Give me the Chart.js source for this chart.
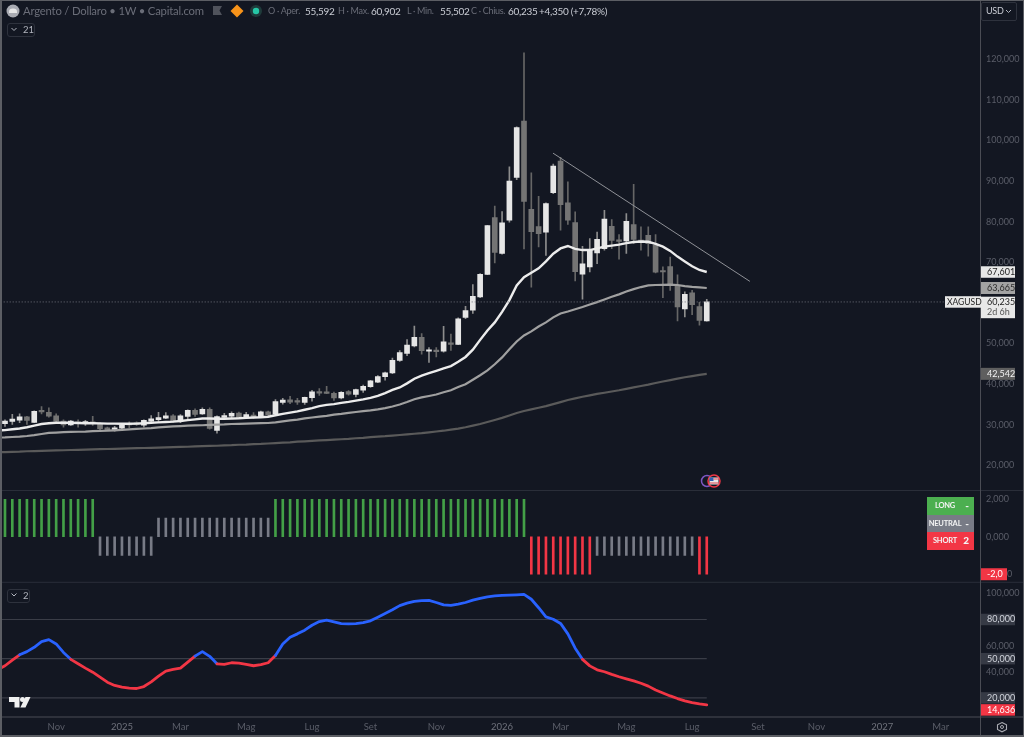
<!DOCTYPE html>
<html>
<head>
<meta charset="utf-8">
<title>Argento / Dollaro</title>
<script src="https://cdn.jsdelivr.net/npm/chart.js@4"></script>
<style>
  html, body { margin: 0; padding: 0; background: #131722; }
  #wrap { position: relative; width: 1024px; height: 737px; overflow: hidden; font-family: Lato, sans-serif; }
  canvas { position: absolute; left: 0; top: 0; }
  #frame { position: absolute; inset: 0; border: 1px solid #5c5e64; border-width: 1px 1px 2px 2px; pointer-events: none; }
  .t { position: absolute; white-space: nowrap; line-height: 12px; font-size: 9px; letter-spacing: -0.3px; top: 5px; }
  .dim { color: #6a6d78; }
  .val { color: #c9ccd4; }
  .fold { position: absolute; border: 1px solid #2e323d; border-radius: 3px; color: #b2b5be; font-size: 9.5px; line-height: 12px; height: 12px; box-sizing: content-box; padding-left: 15px; }
  .row { position: absolute; left: 927px; width: 47px; height: 17.5px; color: #f4f4f4; font-size: 7.5px; line-height: 17px; font-weight: 700; }
  .row b { position: absolute; right: 5px; font-size: 10px; }
  .row span { position: absolute; left: 0; width: 36px; text-align: center; letter-spacing: -0.2px; }
  svg { position: absolute; left: 0; top: 0; }
</style>
</head>
<body>
<div id="wrap">
  <canvas id="silver" width="1024" height="737"></canvas>
  <svg width="1024" height="737">
    <!-- symbol badge and status marks -->
    <circle cx="13" cy="11" r="6.500" fill="#a9abb2"/>
    <path d="M9 13h8v-1.500a4 3 0 0 0-8 0z" fill="#e6e6e6"/>
    <path d="M213 6h9l-2.500 4.500 2.500 4.500h-9z" fill="#50535c"/>
    <path d="M237 4.500l6.500 6.500-6.500 6.500-6.500-6.500z" fill="#f7931a"/>
    <circle cx="256" cy="11" r="6" fill="#1f3b3b"/>
    <circle cx="256" cy="11" r="3.200" fill="#26c6a6"/>
    <!-- folded indicator chevrons -->
    <path d="M11.500 28l2.500 2.500 2.500-2.500" fill="none" stroke="#b2b5be"/>
    <path d="M11.500 593.500l2.500 2.500 2.500-2.500" fill="none" stroke="#b2b5be"/>
    <!-- calendar event markers -->
    <circle cx="707" cy="481" r="5.500" fill="#131722" stroke="#7e57c2" stroke-width="1.500"/>
    <circle cx="714" cy="481" r="6" fill="#131722" stroke="#f23645" stroke-width="1.500"/>
    <rect x="709.500" y="477.500" width="9" height="7" fill="#e8e8e8"/>
    <rect x="709.500" y="477.500" width="4" height="3.500" fill="#2f5fb3"/>
    <path d="M709.500 483h9M713.500 479h5" stroke="#e0464f" stroke-width="1"/>
    <!-- brand mark -->
    <path d="M9 697h10.500v10.500h-5v-5.500h-5.500z" fill="#f0f0f0"/>
    <circle cx="22.500" cy="699.500" r="2.500" fill="#f0f0f0"/>
    <path d="M25.500 697h5l-5 10.500h-5.200z" fill="#f0f0f0"/>
    <!-- settings gear -->
    <path d="M1002 722.500l4.500 2.300v4.700l-4.500 2.300-4.500-2.300v-4.700z" fill="none" stroke="#a9abb2" stroke-width="1.100"/>
    <circle cx="1002" cy="727" r="1.500" fill="none" stroke="#a9abb2"/>
    <!-- currency chevron -->
    <path d="M1006 10l2.500 2.500 2.500-2.500" fill="none" stroke="#b2b5be"/>
  </svg>

  <div class="t dim" style="left:23px;font-size:11.3px;letter-spacing:-0.2px;">Argento / Dollaro • 1W • Capital.com</div>
  <div class="t dim" style="left:268px;">O · Aper.</div><div class="t val" style="left:305px;font-size:10px;">55,592</div>
  <div class="t dim" style="left:338px;">H · Max.</div><div class="t val" style="left:371px;font-size:10px;">60,902</div>
  <div class="t dim" style="left:407px;">L · Min.</div><div class="t val" style="left:440px;font-size:10px;">55,502</div>
  <div class="t dim" style="left:471px;">C · Chius.</div><div class="t val" style="left:508px;font-size:10px;">60,235</div>
  <div class="t val" style="left:539px;font-size:10px;">+4,350 (+7,78%)</div>
  <div class="t val" style="left:986px;">USD</div>
  <div style="position:absolute;left:981px;top:2px;width:34px;height:17px;border:1px solid #2e323d;border-radius:2px;"></div>

  <div class="fold" style="left:7px;top:23px;width:11px;">21</div>
  <div class="fold" style="left:7px;top:589px;width:6px;">2</div>

  <div class="row" style="top:497px;background:#4caf50;"><span>LONG</span><b>-</b></div>
  <div class="row" style="top:514.5px;background:#787b86;"><span>NEUTRAL</span><b>-</b></div>
  <div class="row" style="top:532px;background:#f23645;"><span>SHORT</span><b>2</b></div>
  <div id="frame"></div>
</div>
<script>
// Weekly silver candles; week 0 sits just off the left edge of the pane
const opens = [30.6,
  30.26,30.84,31.17,31.99,30.6,33.4,33.1,32.2,30.9,30.0,
  30.75,30.43,30.5,30.26,29.28,28.87,29.2,30.25,30.25,29.93,
  30.9,31.25,31.65,32.2,30.9,32.05,33.55,32.7,33.8,28.6,
  31.8,32.15,32.9,31.8,32.3,32,33.2,32.65,35.5,36.15,
  35.85,35.5,36.67,38.2,37.95,37.75,36.6,38.15,37.5,38.55,
  39.4,40.5,41.85,42.75,45.85,47.6,49.4,51.55,48.1,48.25,
  48.1,50.2,49.8,56.4,58.2,61.5,67,81,72.15,80.35,
  90.85,104.75,83,78.8,77.4,87.1,94.9,84.6,79.75,67.05,
  68.85,72.3,73.35,78.85,75.5,75.25,79.3,75.3,76.65,74.2,
  67.85,68.95,64.1,58.5,62.45,59.1,55.592];
const closes = [30.4,
  30.92,31.41,31.99,31.08,33.3,33.2,32.15,30.9,30.0,30.9,
  30.35,30.6,30.35,29.03,28.7,29.28,30.0,30.0,30.1,31.08,
  31.5,31.8,32.2,30.85,32.2,33.55,32.55,33.8,29.1,32.05,
  32.3,32.8,31.65,32.55,32,33.2,32.5,35.7,36.1,35.6,
  35.6,36.75,38.14,37.8,37.75,36.6,38,37.55,38.65,39.45,
  40.8,41.9,42.8,45.85,47.75,49.65,51.55,48.25,48.4,48,
  50.4,49.8,56.1,58.1,61.6,67,79,72.45,79.7,89.95,
  103.15,84.95,77.5,77.05,84.45,93.65,84.2,80.35,67.7,69.6,
  72.95,75.65,80.65,75.4,75.1,80.1,75.65,75.1,74.6,67.55,
  67.6,64.4,59,62.1,59.55,55.7,60.235];
const highs = [30.9,
  31.2,32.56,32.73,32.07,33.46,34.5,34.2,32.7,31.25,31.1,
  31.25,31.1,32.07,30.5,29.45,29.6,30.2,30.75,30.75,31.25,
  32.3,33.05,33,32.55,32.55,33.7,33.95,34.2,34.2,32.2,
  32.8,33.2,33.15,33.05,33,33.4,33.4,36.2,36.5,37,
  36.5,36.8,38.5,38.9,39.45,38.05,38.2,38.4,38.8,39.8,
  40.95,42.1,43,46.4,48.25,50.95,54.3,52.45,49,49,
  54.25,52.3,56.3,59.15,64.5,67.2,79.1,83.8,82.5,93.5,
  103.3,121.55,92,86.25,84.6,94.15,95.8,89.8,82.4,73.95,
  75.85,77.45,82.8,80.5,76.8,82,89.2,78.7,78.7,76.8,
  68.85,71.3,66.9,62.75,63.1,60.15,60.902];
const lows = [30.2,
  29.6,30.1,30.5,30.1,30.5,32.7,31.9,30.7,29.45,29.85,
  29.45,29.85,29.85,28.6,28.6,28.45,29.03,29.3,29.85,29.45,
  30.4,30.7,31.5,30.6,30.5,31.5,32.05,32.55,28.95,27.95,
  31.65,31.75,31.6,31.6,31.6,31.75,32.05,32.55,35.1,35.2,
  35,35,35.85,37.25,37.65,36,36.4,37.3,36.85,38,
  39.2,40.35,41,42.6,45.6,47,49.15,47.4,45.35,46.7,
  47.9,48.3,49.7,56.1,57.4,61.3,66.95,69.85,72,79.85,
  90.35,73.3,63.9,73.8,71.7,86.9,77.9,79.3,65.4,60.9,
  67.6,69.65,72.95,73.35,70.75,72.15,74.6,73,71.5,67.35,
  61.3,63.1,55.55,56.55,57.1,54.55,55.502];

// Moving averages over the candles
const fastMa = [28.6,
  28.7,28.9,29.1,29.4,29.8,30.2,30.4,30.5,30.5,30.5,
  30.45,30.4,30.4,30.35,30.3,30.3,30.25,30.25,30.3,30.4,
  30.5,30.6,30.7,30.8,30.95,31.15,31.35,31.55,31.55,31.5,
  31.5,31.55,31.6,31.7,31.8,31.85,32,32.35,32.7,33,
  33.3,33.7,34.1,34.6,34.9,35.1,35.4,35.65,35.95,36.25,
  36.65,37.1,37.8,38.6,39.2,40.2,41.35,42.1,42.7,43.3,
  43.9,44.45,45.5,46.7,48.5,50.9,53.2,55.2,57.8,60.7,
  64.3,66.3,67.4,68.5,70.2,72.1,73.4,74,73.3,73,
  73,73.4,73.85,74.1,74.35,74.7,75,75.1,75.05,74.5,
  73.85,72.8,71.4,70.2,69,68.1,67.601];
const midMa = [26.85,
  26.9,27,27.1,27.25,27.45,27.75,28,28.1,28.2,28.25,
  28.3,28.35,28.45,28.5,28.55,28.65,28.75,28.9,29,29.1,
  29.2,29.35,29.5,29.6,29.7,29.8,29.85,29.9,30,30.05,
  30.1,30.2,30.25,30.3,30.35,30.4,30.45,30.6,30.85,31.1,
  31.3,31.6,31.8,32,32.2,32.5,32.7,32.95,33.15,33.35,
  33.55,33.8,34.1,34.5,35,35.6,36.3,36.75,37.1,37.45,
  38,38.5,39.3,40,41.1,42.2,43.4,44.9,46.6,48.6,
  50.5,52,53,54.2,55.2,56.45,57.4,57.9,58.45,59,
  59.6,60.2,60.85,61.5,62.1,62.8,63.4,63.9,64.3,64.4,
  64.45,64.5,64.4,64.15,63.95,63.8,63.665];
const slowMa = [23.25,
  23.3,23.35,23.4,23.5,23.55,23.6,23.65,23.7,23.75,23.8,
  23.85,23.9,23.95,24,24.05,24.1,24.15,24.2,24.25,24.3,
  24.35,24.4,24.45,24.5,24.55,24.6,24.7,24.75,24.8,24.85,
  24.95,25,25.1,25.15,25.25,25.3,25.4,25.5,25.6,25.7,
  25.85,25.95,26.05,26.15,26.25,26.35,26.45,26.55,26.7,26.8,
  26.95,27.1,27.2,27.35,27.5,27.65,27.8,27.95,28.15,28.35,
  28.55,28.8,29.05,29.4,29.8,30.2,30.7,31.2,31.7,32.3,
  32.9,33.4,33.8,34.2,34.6,35.1,35.6,36.1,36.5,36.9,
  37.25,37.6,37.9,38.2,38.5,38.85,39.2,39.55,39.9,40.3,
  40.65,41,41.35,41.7,42,42.3,42.542];

// Hand drawn trendline and the last traded price
const trendWeeks = [75.97, 102.9];
const trendValues = [96.85, 65.3];
const lastPrice = 60.235;

// Long / neutral / short state per week
const signal = [2,
  2,2,2,2,2,2,2,2,2,2,2,2,2,
  -1,-1,-1,-1,-1,-1,-1,-1,
  1,1,1,1,1,1,1,1,1,1,1,1,1,1,1,1,
  2,2,2,2,2,2,2,2,2,2,
  2,2,2,2,2,2,2,2,2,2,
  2,2,2,2,2,2,2,2,2,2,
  2,2,2,2,2,
  -2,-2,-2,-2,-2,-2,-2,-2,-2,
  -1,-1,-1,-1,-1,-1,-1,-1,-1,-1,-1,-1,-1,-1,
  -2,-2];

// Oscillator, blue above the 50 level and red below it
const oscillator = [41.5,
  44.6,48.9,53,55.4,58.7,63,64.6,61.3,54.8,49.5,
  46.1,42.8,39.7,35.9,32,29.5,28.2,27.4,27.2,28.7,
  32.3,36.6,40.5,41.8,42.8,47.4,52,55.4,51.8,46.1,
  45.6,46.9,46.6,45.6,44.6,45.4,46.9,52.5,61.3,66.4,
  69,71.8,75.6,78.4,79.5,78.2,76.9,76.6,76.9,77.6,
  79,81.8,84.6,87.5,90.6,92.5,93.8,94.4,94.6,93,
  91.2,90.8,91.8,93,94.8,96.2,97.3,98,98.4,98.6,
  98.9,99.2,95.5,89,82,80.2,77,69,58,49.5,
  44.5,41.5,40,38,36.2,34.6,33,31.2,29,26,
  23.8,21.5,19.5,17.7,16.4,15.4,14.636];
const oscLevels = [80, 50, 20];

// Axis ticks
const priceTicks = [20,30,40,50,60,70,80,90,100,110,120];
const signalTicks = [-2,0,2];
const oscTicks = [40,60,100];
const timeTicks = [8,17,25,34,43,51,60,69,77,86,95,104,112,121,129];
const timeLabels = ['Nov','2025','Mar','Mag','Lug','Set','Nov','2026','Mar','Mag','Lug','Set','Nov','2027','Mar'];

const upBody = '#e6e6e6', downBody = '#747474';
const longGreen = '#43a047', neutralGray = '#787b86', shortRed = '#f23645', oscBlue = '#2962ff';
const axisText = '#5a5d68', FONT = 'Lato, sans-serif';

const comma = (v, d) => v.toFixed(d === undefined ? 3 : d).replace('.', ',');
const at = (arr) => arr.map((y, x) => ({ x, y }));
const isUp = closes.map((c, i) => c >= opens[i]);
const lastWeek = opens.length - 1;
const flat = (y, x0, x1) => [{ x: x0, y }, { x: x1, y }];

// Panes stack on one right hand axis column, heaviest weight on top
function yAxis(weight, stackWeight, min, max, tickValues) {
  return {
    type: 'linear', position: 'right', stack: 'panes', weight, stackWeight, min, max,
    grid: { display: false, drawTicks: false }, border: { display: false },
    afterBuildTicks: (s) => { s.ticks = tickValues.map(value => ({ value })); },
    afterFit: (s) => { s.width = 44; s.paddingTop = 0; s.paddingBottom = 0; },
    ticks: {
      color: axisText, crossAlign: 'near', padding: 6, autoSkip: false,
      font: { family: FONT, size: 9 }, callback: (v) => comma(v)
    }
  };
}

// Price tags sitting on the right axis, on top of its tick labels
const tags = [
  { axis: 'y', value: fastMa[lastWeek], bg: '#e8e8e8', fg: '#222' },
  { axis: 'y', value: midMa[lastWeek], bg: '#a3a3a3', fg: '#2b2b2b', h: 12 },
  { axis: 'y', value: slowMa[lastWeek], bg: '#5f5f5f', fg: '#f2f2f2', h: 12 },
  { axis: 'osc', value: 80, bg: '#363a45', fg: '#d1d4dc' },
  { axis: 'osc', value: 50, bg: '#363a45', fg: '#d1d4dc' },
  { axis: 'osc', value: 20, bg: '#363a45', fg: '#d1d4dc' },
  { axis: 'osc', value: oscillator[lastWeek], bg: shortRed, fg: '#fff', dy: 5 },
];

const panePlugin = {
  id: 'panes',
  beforeInit(chart) { chart.ctx.letterSpacing = '-0.45px'; },
  beforeDatasetsDraw(chart) {
    const c = chart.ctx, { y, sig, osc } = chart.scales;
    c.save();
    c.strokeStyle = '#2a2e39';
    c.lineWidth = 1;
    [y.bottom, sig.bottom].forEach(py => {
      c.beginPath(); c.moveTo(0, py); c.lineTo(1024, py); c.stroke();
    });
    c.strokeStyle = '#4a4c54';
    c.beginPath(); c.moveTo(0, osc.bottom); c.lineTo(1024, osc.bottom); c.stroke();
    c.beginPath(); c.moveTo(980.5, 0); c.lineTo(980.5, 735); c.stroke();
    c.restore();
  },
  afterDraw(chart) {
    const c = chart.ctx, s = chart.scales;
    const box = (x, py, w, h, fill) => { c.fillStyle = fill; c.fillRect(x, py - h / 2, w, h); };
    const text = (str, x, py, color, size) => {
      c.fillStyle = color; c.font = `${size || 9}px ${FONT}`;
      c.textAlign = 'left'; c.textBaseline = 'middle'; c.fillText(str, x, py);
    };
    c.save();
    tags.forEach(t => {
      const py = s[t.axis].getPixelForValue(t.value) + (t.dy || 0);
      box(981, py, 34, t.h || 11.5, t.bg);
      text(comma(t.value), 987, py, t.fg);
    });
    // current price block with time to bar close
    const py = s.y.getPixelForValue(lastPrice);
    box(981, py + 5.5, 34, 21.5, '#e8e8e8');
    text(comma(lastPrice), 987, py, '#222');
    text('2d 6h', 987, py + 10.5, '#555');
    box(945, py, 36, 11.5, '#e8e8e8');
    text('XAGUSD', 947, py, '#222', 8.5);
    // state tag of the signal pane
    const sy = s.sig.getPixelForValue(signal[lastWeek]);
    box(981, sy, 26, 12, shortRed);
    text(comma(signal[lastWeek], 1), 987, sy, '#fff');
    c.restore();
  }
};

new Chart(document.getElementById('silver'), {
  type: 'bar',
  data: {
    datasets: [
      { label: 'wick', data: at(lows.map((l, i) => [l, highs[i]])), yAxisID: 'y', grouped: false, barThickness: 1,
        backgroundColor: isUp.map(u => u ? '#8d8d8d' : '#666'), order: 9 },
      { label: 'body', data: at(opens.map((o, i) => [o, closes[i]])), yAxisID: 'y', grouped: false, barThickness: 5, minBarLength: 1.5,
        backgroundColor: isUp.map(u => u ? upBody : downBody), order: 8 },
      { label: 'signal', data: at(signal), yAxisID: 'sig', grouped: false, barThickness: 2,
        backgroundColor: signal.map(v => v === 2 ? longGreen : v === -2 ? shortRed : neutralGray), order: 7 },
      { type: 'line', label: 'slow', data: at(slowMa), yAxisID: 'y', borderColor: '#5a5a5a', borderWidth: 2.2, pointRadius: 0, order: 6 },
      { type: 'line', label: 'mid', data: at(midMa), yAxisID: 'y', borderColor: '#a0a0a0', borderWidth: 2.2, pointRadius: 0, order: 5 },
      { type: 'line', label: 'fast', data: at(fastMa), yAxisID: 'y', borderColor: '#ececec', borderWidth: 2.4, pointRadius: 0, order: 4 },
      { type: 'line', label: 'trend', data: trendWeeks.map((x, i) => ({ x, y: trendValues[i] })), yAxisID: 'y', borderColor: '#8f9197', borderWidth: 1, pointRadius: 0, order: 3 },
      { type: 'line', label: 'last', data: flat(lastPrice, 0, 135), yAxisID: 'y', borderColor: '#6f727a', borderWidth: 1, borderDash: [1, 2], pointRadius: 0, order: 2 },
      ...oscLevels.map(level => ({ type: 'line', label: 'level', data: flat(level, 0, lastWeek), yAxisID: 'osc', borderColor: '#3a3d47', borderWidth: 1.2, pointRadius: 0, order: 2 })),
      { type: 'line', label: 'osc', data: at(oscillator), yAxisID: 'osc', borderColor: oscBlue, borderWidth: 2.8, pointRadius: 0, order: 1,
        borderJoinStyle: 'round', borderCapStyle: 'round',
        segment: { borderColor: (ctx) => ctx.p0.parsed.y >= 50 ? oscBlue : shortRed } },
    ]
  },
  options: {
    responsive: false,
    animation: false,
    devicePixelRatio: 1,
    layout: { padding: { left: 2, top: 2, right: 0, bottom: 2 } },
    plugins: { legend: { display: false }, tooltip: { enabled: false } },
    events: [],
    scales: {
      x: {
        type: 'linear', offset: false, min: 0.59, max: 134.38,
        grid: { display: false, drawTicks: false }, border: { display: false },
        afterBuildTicks: (s) => { s.ticks = timeTicks.map(value => ({ value })); },
        afterFit: (s) => { s.height = 18; s.paddingLeft = 0; s.paddingRight = 0; },
        ticks: {
          autoSkip: false, maxRotation: 0, padding: 4,
          color: (ctx) => /^20/.test(ctx.tick.label) ? '#6f727c' : axisText,
          font: { family: FONT, size: 9.5 },
          callback: (v) => timeLabels[timeTicks.indexOf(v)]
        }
      },
      y: yAxis(1, 488.5, 13.84, 134.04, priceTicks),
      sig: yAxis(2, 91.8, -2.43, 2.47, signalTicks),
      osc: yAxis(3, 134.7, 5.38, 108.46, oscTicks)
    }
  },
  plugins: [panePlugin]
});
</script>
</body>
</html>
